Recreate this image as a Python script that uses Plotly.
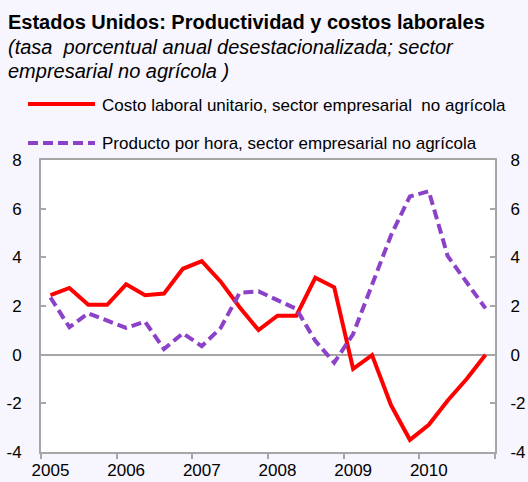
import numpy as np
import plotly.graph_objects as go

quarters = [f"{y}-T{q}" for y in range(2005, 2011) for q in range(1, 5)]
year_labels = ["2005", "2006", "2007", "2008", "2009", "2010"]
costo_laboral = [2.45, 2.74, 2.05, 2.05, 2.89, 2.44, 2.51, 3.53, 3.84, 3.0, 1.95, 1.01,
                 1.6, 1.6, 3.16, 2.77, -0.58, -0.02, -2.07, -3.5, -2.88, -1.88, -1.0, 0.0]
producto_hora = [2.35, 1.13, 1.70, 1.40, 1.10, 1.36, 0.23, 0.88, 0.35, 1.10, 2.54, 2.60,
                 2.25, 1.88, 0.57, -0.33, 0.85, 2.90, 4.90, 6.50, 6.72, 4.05, 2.98, 1.90]
y_ticks = [-4, -2, 0, 2, 4, 6, 8]
y_tick_labels = ["-4", "-2", "0", "2", "4", "6", "8"]

name_red = "Costo laboral unitario, sector empresarial  no agrícola"
name_purple = "Producto por hora, sector empresarial no agrícola"
RED = "#ff0000"
PURPLE = "#8c42c8"
GRAY = "#a6a6a6"
FONT = "Liberation Sans, Arial, sans-serif"

x = np.arange(len(quarters))
n = len(quarters)

fig = go.Figure()
fig.add_trace(go.Scatter(x=x, y=costo_laboral, mode="lines", name=name_red,
                         line=dict(color=RED, width=4), hovertext=quarters))
fig.add_trace(go.Scatter(x=x, y=producto_hora, mode="lines", name=name_purple,
                         line=dict(color=PURPLE, width=4, dash="10px,5px"), hovertext=quarters))
# invisible trace for right axis
fig.add_trace(go.Scatter(x=x, y=costo_laboral, yaxis="y2", mode="lines",
                         line=dict(width=0), opacity=0, showlegend=False, hoverinfo="skip"))

boundaries = [i - 0.5 for i in range(0, n + 1, 4)]
label_pos = list(range(0, n, 4))

fig.update_layout(
    width=528, height=482,
    margin=dict(l=41, r=33, t=160, b=30),
    paper_bgcolor="#f7f5fd",
    plot_bgcolor="#ffffff",
    showlegend=False,
    font=dict(family=FONT, size=17, color="#000000"),
    xaxis=dict(range=[-0.5, n - 0.5], tickmode="array", tickvals=label_pos, ticktext=year_labels,
               ticks="", showgrid=False, zeroline=False, showline=True, linecolor=GRAY, linewidth=2,
               mirror=True, ticklabelstandoff=2, automargin=False,
               minor=dict(tickmode="array", tickvals=boundaries, ticks="outside", ticklen=5,
                          tickcolor=GRAY, tickwidth=2, showgrid=False),
               tickfont=dict(size=17)),
    yaxis=dict(range=[-4, 8], tickmode="array", tickvals=y_ticks, ticktext=y_tick_labels,
               ticks="inside", ticklen=5, tickcolor=GRAY, tickwidth=2,
               showgrid=False, zeroline=True, zerolinecolor=GRAY, zerolinewidth=2, automargin=False,
               showline=True, linecolor=GRAY, linewidth=2, ticklabelstandoff=14, tickfont=dict(size=17)),
    yaxis2=dict(range=[-4, 8], tickmode="array", tickvals=y_ticks, ticktext=y_tick_labels,
                ticks="inside", ticklen=5, tickcolor=GRAY, tickwidth=2, automargin=False,
                overlaying="y", side="right", showgrid=False, zeroline=False,
                showline=True, linecolor=GRAY, linewidth=2, ticklabelstandoff=10, tickfont=dict(size=17)),
)

W = 454.0
H = 292.0
def px(xp):
    return (xp - 41) / W
def py(yp):
    return (452 - yp) / H

annotations = [
    dict(text="<b>Estados Unidos: Productividad y costos laborales</b>", x=px(6), y=py(22),
         font=dict(size=20)),
    dict(text="<i>(tasa  porcentual anual desestacionalizada; sector</i>", x=px(6), y=py(47),
         font=dict(size=20)),
    dict(text="<i>empresarial no agrícola )</i>", x=px(6), y=py(71), font=dict(size=20)),
    dict(text=name_red, x=px(100), y=py(105), font=dict(size=17)),
    dict(text=name_purple, x=px(100), y=py(143), font=dict(size=17)),
]
for a in annotations:
    a.update(xref="paper", yref="paper", xanchor="left", yanchor="middle", showarrow=False)
fig.update_layout(annotations=annotations)

fig.add_shape(type="line", xref="paper", yref="paper", x0=px(28), x1=px(95), y0=py(104), y1=py(104),
              line=dict(color=RED, width=4))
fig.add_shape(type="line", xref="paper", yref="paper", x0=px(28), x1=px(95), y0=py(143), y1=py(143),
              line=dict(color=PURPLE, width=4, dash="10px,5px"))

fig.write_html("out.html", config={"displayModeBar": False},
               post_script="document.body.style.margin='0';document.body.style.background='#f7f5fd';")
